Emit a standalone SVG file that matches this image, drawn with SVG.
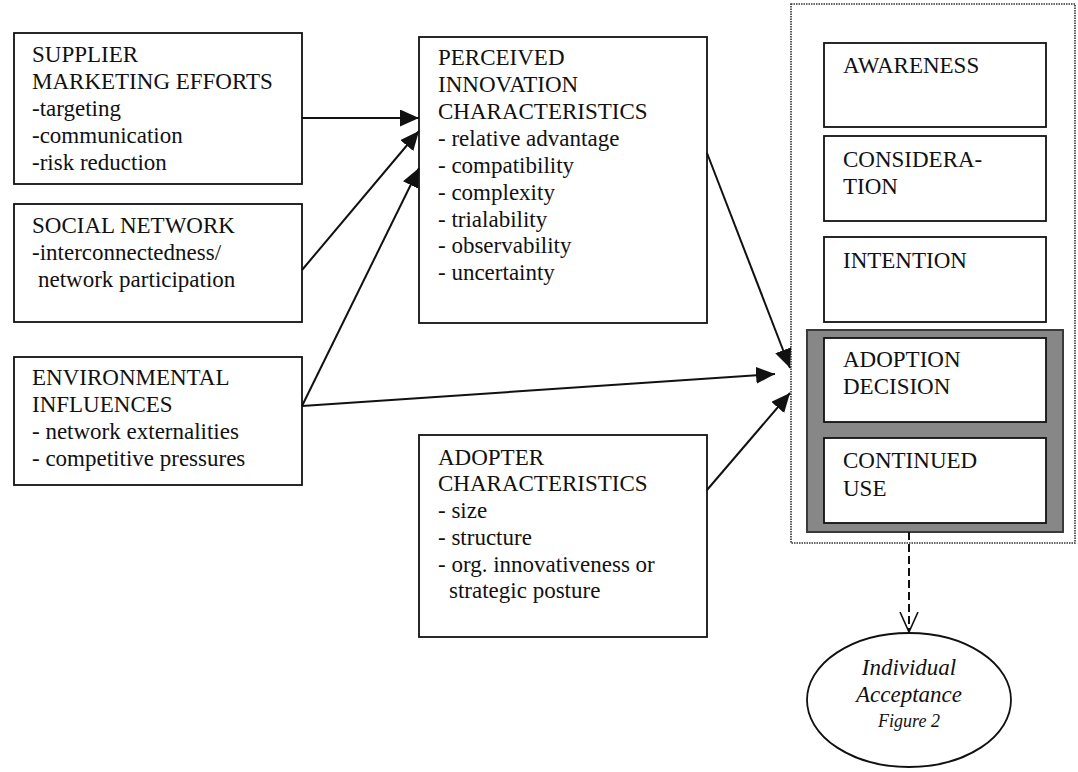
<svg xmlns="http://www.w3.org/2000/svg" width="1078" height="772" viewBox="0 0 1078 772">
<style>
.box{fill:#fff;stroke:#111;stroke-width:1.8}
.t{font-size:23px;fill:#111}
.it{font-style:italic;fill:#111}
.ln{stroke:#111;stroke-width:2;fill:none}
</style>
<defs>
<marker id="ah" markerUnits="userSpaceOnUse" markerWidth="22" markerHeight="20" refX="19" refY="8.5" orient="auto">
<path d="M0,0 L19,8.5 L0,17 z" fill="#111"/>
</marker>
<marker id="ov" markerUnits="userSpaceOnUse" markerWidth="22" markerHeight="22" refX="20" refY="10" orient="auto">
<path d="M0,1 L20,10 L0,19" fill="none" stroke="#111" stroke-width="1.6"/>
</marker>
</defs>
<rect width="1078" height="772" fill="#fff"/>

<g id="stages-frame">
<rect x="791" y="4" width="284" height="539" fill="none" stroke="#333" stroke-width="1.6" stroke-dasharray="1.5,1"/>
</g>
<g id="outcome-frame">
<rect x="807" y="330" width="256" height="202" fill="#878787" stroke="#3a3a3a" stroke-width="2"/>
</g>

<g font-family="Liberation Serif, Times New Roman, DejaVu Serif, serif">
<g id="supplier">
<rect class="box" x="14" y="33" width="288" height="151"/>
<text class="t" x="32" y="62">SUPPLIER</text>
<text class="t" x="32" y="89">MARKETING EFFORTS</text>
<text class="t" x="32" y="116">-targeting</text>
<text class="t" x="32" y="143">-communication</text>
<text class="t" x="32" y="170">-risk reduction</text>
</g>
<g id="social">
<rect class="box" x="14" y="204" width="288" height="118"/>
<text class="t" x="32" y="233">SOCIAL NETWORK</text>
<text class="t" x="32" y="260">-interconnectedness/</text>
<text class="t" x="38" y="287">network participation</text>
</g>
<g id="environmental">
<rect class="box" x="14" y="357" width="288" height="128"/>
<text class="t" x="32" y="385">ENVIRONMENTAL</text>
<text class="t" x="32" y="412">INFLUENCES</text>
<text class="t" x="32" y="439">- network externalities</text>
<text class="t" x="32" y="466">- competitive pressures</text>
</g>
<g id="perceived">
<rect class="box" x="419" y="37" width="288" height="286"/>
<text class="t" x="438" y="65">PERCEIVED</text>
<text class="t" x="438" y="92">INNOVATION</text>
<text class="t" x="438" y="119">CHARACTERISTICS</text>
<text class="t" x="438" y="146">- relative advantage</text>
<text class="t" x="438" y="173">- compatibility</text>
<text class="t" x="438" y="200">- complexity</text>
<text class="t" x="438" y="227">- trialability</text>
<text class="t" x="438" y="253">- observability</text>
<text class="t" x="438" y="280">- uncertainty</text>
</g>
<g id="adopter">
<rect class="box" x="419" y="435" width="288" height="202"/>
<text class="t" x="438" y="465">ADOPTER</text>
<text class="t" x="438" y="491">CHARACTERISTICS</text>
<text class="t" x="438" y="518">- size</text>
<text class="t" x="438" y="545">- structure</text>
<text class="t" x="438" y="572">- org. innovativeness or</text>
<text class="t" x="449" y="598">strategic posture</text>
</g>
<g id="awareness">
<rect class="box" x="824" y="43" width="222" height="84"/>
<text class="t" x="843" y="73">AWARENESS</text>
</g>
<g id="consideration">
<rect class="box" x="824" y="136" width="222" height="85"/>
<text class="t" x="843" y="167">CONSIDERA-</text>
<text class="t" x="843" y="194">TION</text>
</g>
<g id="intention">
<rect class="box" x="824" y="237" width="222" height="85"/>
<text class="t" x="843" y="268">INTENTION</text>
</g>
<g id="adoption">
<rect class="box" x="824" y="338" width="222" height="84"/>
<text class="t" x="843" y="367">ADOPTION</text>
<text class="t" x="843" y="394">DECISION</text>
</g>
<g id="continued">
<rect class="box" x="824" y="438" width="222" height="85"/>
<text class="t" x="843" y="468">CONTINUED</text>
<text class="t" x="843" y="496">USE</text>
</g>
<g id="individual">
<ellipse cx="909" cy="700" rx="102" ry="67" fill="#fff" stroke="#111" stroke-width="1.8"/>
<text class="it" x="909" y="675" font-size="23" text-anchor="middle">Individual</text>
<text class="it" x="909" y="702" font-size="23" text-anchor="middle">Acceptance</text>
<text class="it" x="909" y="727" font-size="18" text-anchor="middle">Figure 2</text>
</g>
</g>

<g id="connectors">
<line class="ln" x1="302" y1="118" x2="419" y2="118" marker-end="url(#ah)"/>
<line class="ln" x1="302" y1="270" x2="419" y2="131" marker-end="url(#ah)"/>
<line class="ln" x1="302" y1="406" x2="419" y2="168" marker-end="url(#ah)"/>
<line class="ln" x1="302" y1="406" x2="775" y2="374" marker-end="url(#ah)"/>
<line class="ln" x1="707" y1="153" x2="790" y2="368" marker-end="url(#ah)"/>
<line class="ln" x1="707" y1="490" x2="790" y2="393" marker-end="url(#ah)"/>
<line class="ln" x1="909" y1="532" x2="909" y2="632" stroke-width="1.6" stroke-dasharray="8,4" marker-end="url(#ov)"/>
</g>
</svg>
